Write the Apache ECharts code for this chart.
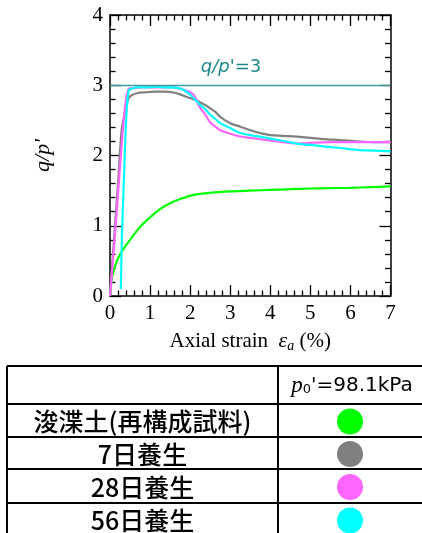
<!DOCTYPE html>
<html>
<head>
<meta charset="utf-8">
<script src="https://cdn.jsdelivr.net/npm/echarts@6/dist/echarts.min.js"></script>
<style>
html,body{margin:0;padding:0;background:#fff;}
#chart{width:422px;height:533px;}
</style>
</head>
<body>
<div id="chart"></div>
<script>
// ---- data (axial strain %, q/p') ----
const greenStrain = [0, 0.05, 0.1, 0.22, 0.35, 0.5, 0.76, 1.0, 1.26, 1.5, 1.75, 2.09, 2.5, 3.0, 3.5, 4.0, 4.5, 5.0, 5.5, 6.0, 6.5, 7.0];
const greenQp     = [0, 0.27, 0.38, 0.56, 0.68, 0.8, 0.99, 1.12, 1.24, 1.32, 1.38, 1.44, 1.47, 1.49, 1.5, 1.51, 1.52, 1.53, 1.535, 1.54, 1.55, 1.56];

const grayStrain = [0, 0.1, 0.2, 0.29, 0.35, 0.4, 0.47, 0.55, 0.7, 0.9, 1.13, 1.35, 1.55, 1.75, 1.88, 2.05, 2.21, 2.4, 2.5, 2.63, 2.75, 3.0, 3.25, 3.5, 3.75, 4.0, 4.3, 4.66, 5.0, 5.4, 5.74, 6.2, 6.6, 7.0];
const grayQp     = [0, 0.8, 1.6, 2.36, 2.55, 2.7, 2.82, 2.86, 2.89, 2.9, 2.91, 2.91, 2.9, 2.87, 2.84, 2.81, 2.77, 2.71, 2.67, 2.62, 2.55, 2.46, 2.41, 2.36, 2.32, 2.29, 2.28, 2.27, 2.25, 2.23, 2.22, 2.2, 2.19, 2.19];

const magentaStrain = [0, 0.1, 0.2, 0.32, 0.4, 0.47, 0.6, 0.8, 1.0, 1.2, 1.4, 1.55, 1.75, 1.88, 2.0, 2.09, 2.15, 2.21, 2.3, 2.38, 2.5, 2.63, 2.75, 3.0, 3.25, 3.5, 3.92, 4.3, 4.66, 5.0, 5.5, 6.0, 6.5, 7.0];
const magentaQp     = [0, 0.7, 1.45, 2.36, 2.8, 2.95, 2.96, 2.97, 2.97, 2.97, 2.97, 2.97, 2.95, 2.93, 2.9, 2.86, 2.8, 2.72, 2.64, 2.58, 2.47, 2.41, 2.36, 2.31, 2.27, 2.25, 2.22, 2.19, 2.17, 2.18, 2.19, 2.19, 2.19, 2.19];

const cyanStrain = [0.27, 0.3, 0.35, 0.39, 0.43, 0.47, 0.55, 0.64, 0.8, 1.0, 1.13, 1.3, 1.5, 1.71, 1.85, 1.95, 2.05, 2.15, 2.25, 2.38, 2.5, 2.63, 2.75, 3.0, 3.25, 3.5, 3.92, 4.3, 4.66, 5.0, 5.33, 5.7, 6.16, 6.6, 7.0];
const cyanQp     = [0.1, 0.9, 1.7, 2.36, 2.75, 2.93, 2.95, 2.97, 2.97, 2.97, 2.98, 2.97, 2.97, 2.96, 2.93, 2.89, 2.84, 2.78, 2.72, 2.66, 2.58, 2.52, 2.46, 2.39, 2.32, 2.29, 2.25, 2.21, 2.17, 2.15, 2.13, 2.11, 2.08, 2.07, 2.06];

const refLineValue = 3;
const xTicks = [0, 1, 2, 3, 4, 5, 6, 7];
const yTicks = [0, 1, 2, 3, 4];

const tableHeader = "p0'=98.1kPa";
const rowLabels = ['浚渫土(再構成試料)', '7日養生', '28日養生', '56日養生'];
const rowColors = ['#00ff00', '#808080', '#ff66ff', '#00ffff'];

// ---- build ----
const pair = (xs, ys) => xs.map((x, i) => [x, ys[i]]);
const serif = 'Liberation Serif';

const axisLineStyle = { color: '#000', width: 1.5 };
const tickStyle = { color: '#000', width: 1.3 };

function xAxisDef(pos, labels) {
  return {
    type: 'value', position: pos, min: xTicks[0], max: xTicks[xTicks.length - 1], interval: 1,
    axisLine: { show: true, onZero: false, lineStyle: axisLineStyle },
    axisTick: { show: true, inside: true, length: 11, lineStyle: tickStyle },
    minorTick: { show: true, splitNumber: 5, length: 5.5, lineStyle: tickStyle },
    splitLine: { show: false },
    axisLabel: { show: labels, fontFamily: serif, fontSize: 21, color: '#000', margin: 7 },
    name: labels ? 'Axial strain  {e|ε}{s|a} (%)' : '',
    nameLocation: 'middle', nameGap: 33,
    nameTextStyle: {
      fontFamily: serif, fontSize: 21, color: '#000',
      rich: {
        e: { fontFamily: serif, fontStyle: 'italic', fontSize: 22, color: '#000' },
        s: { fontFamily: serif, fontStyle: 'italic', fontSize: 14, color: '#000', verticalAlign: 'bottom', padding: [10, 0, 0, 0] }
      }
    }
  };
}
function yAxisDef(pos, labels) {
  return {
    type: 'value', position: pos, min: yTicks[0], max: yTicks[yTicks.length - 1], interval: 1,
    axisLine: { show: true, onZero: false, lineStyle: axisLineStyle },
    axisTick: { show: true, inside: true, length: 11, lineStyle: tickStyle },
    minorTick: { show: true, splitNumber: 5, length: 5.5, lineStyle: tickStyle },
    splitLine: { show: false },
    axisLabel: { show: labels, fontFamily: serif, fontSize: 21, color: '#000', margin: 7 },
    name: labels ? "q/p'" : '',
    nameLocation: 'middle', nameGap: 56, nameRotate: 90,
    nameTextStyle: { fontFamily: serif, fontStyle: 'italic', fontSize: 22, color: '#000' }
  };
}

function lineSeries(name, data, color, withMark) {
  const s = {
    name, type: 'line', data, showSymbol: false, symbol: 'none', smooth: 0.3,
    lineStyle: { color, width: 2.2 }, itemStyle: { color }, animation: false, z: 3
  };
  if (withMark) {
    s.markLine = {
      silent: true, symbol: 'none', animation: false,
      lineStyle: { color: '#3f9c9c', width: 1.3, type: 'solid' },
      label: { show: false },
      data: [{ yAxis: refLineValue }]
    };
  }
  return s;
}

// table graphics
const T = { left: 7, right: 426, col: 278, rows: [366, 404, 437, 469, 503, 536] };
const graphics = [];
T.rows.forEach(y => graphics.push({ type: 'line', shape: { x1: T.left, y1: y, x2: T.right, y2: y }, style: { stroke: '#000', lineWidth: 2 } }));
[T.left, T.col, T.right].forEach(x => graphics.push({ type: 'line', shape: { x1: x, y1: T.rows[0], x2: x, y2: T.rows[T.rows.length - 1] }, style: { stroke: '#000', lineWidth: 2 } }));
graphics.push({
  type: 'text', x: 352, y: (T.rows[0] + T.rows[1]) / 2 + 1,
  style: {
    text: '{p|p}{z|0}{n|' + tableHeader.slice(2) + '}',
    align: 'center', verticalAlign: 'middle',
    rich: {
      p: { fontFamily: serif, fontStyle: 'italic', fontSize: 23, fill: '#000' },
      z: { fontFamily: 'DejaVu Sans', fontSize: 13, fill: '#000', padding: [8, 0, 0, 0] },
      n: { fontFamily: 'DejaVu Sans', fontSize: 20, fill: '#000' }
    }
  }
});
rowLabels.forEach((lab, i) => {
  const cy = (T.rows[i + 1] + T.rows[i + 2]) / 2 + 1;
  graphics.push({
    type: 'text', x: (T.left + T.col) / 2, y: cy,
    style: { text: lab, align: 'center', verticalAlign: 'middle', fontFamily: 'Noto Sans CJK JP', fontWeight: 500, fontSize: 25, fill: '#000' }
  });
  graphics.push({ type: 'circle', shape: { cx: 350, cy: cy, r: 13 }, style: { fill: rowColors[i] } });
});
// reference line label
graphics.push({
  type: 'text', x: 231, y: 67,
  style: {
    text: "{i|q/p}{n|'=3}", align: 'center', verticalAlign: 'middle',
    rich: {
      i: { fontFamily: 'DejaVu Sans', fontStyle: 'italic', fontSize: 18, fill: '#1f8787' },
      n: { fontFamily: 'DejaVu Sans', fontSize: 18, fill: '#1f8787' }
    }
  }
});

const option = {
  backgroundColor: '#fff',
  animation: false,
  grid: { left: 110, right: 31.5, top: 15, bottom: 237, outerBoundsMode: 'none', containLabel: false },
  xAxis: [xAxisDef('bottom', true), xAxisDef('top', false)],
  yAxis: [yAxisDef('left', true), yAxisDef('right', false)],
  series: [
    lineSeries('浚渫土(再構成試料)', pair(greenStrain, greenQp), rowColors[0], true),
    lineSeries('7日養生', pair(grayStrain, grayQp), rowColors[1], false),
    lineSeries('28日養生', pair(magentaStrain, magentaQp), rowColors[2], false),
    lineSeries('56日養生', pair(cyanStrain, cyanQp), rowColors[3], false)
  ],
  graphic: graphics
};

const chart = echarts.init(document.getElementById('chart'), null, { renderer: 'canvas' });
chart.setOption(option);
</script>
</body>
</html>
